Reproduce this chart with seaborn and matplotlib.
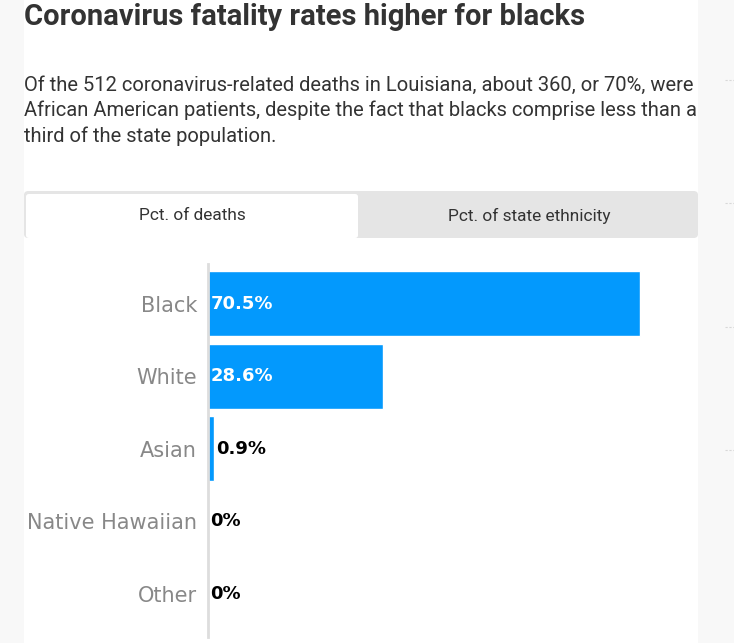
import matplotlib
matplotlib.use("Agg")
import matplotlib.pyplot as plt
import seaborn as sns
import pandas as pd
from matplotlib.patches import Rectangle, FancyBboxPatch
from matplotlib.lines import Line2D

# data
groups = ["Black", "White", "Asian", "Native Hawaiian", "Other"]
pct_deaths = [70.5, 28.6, 0.9, 0.0, 0.0]
value_labels = ["70.5%", "28.6%", "0.9%", "0%", "0%"]
tabs = ["Pct. of deaths", "Pct. of state ethnicity"]

title = "Coronavirus fatality rates higher for blacks"
subtitle = ("Of the 512 coronavirus-related deaths in Louisiana, about 360, or 70%, were\n"
            "African American patients, despite the fact that blacks comprise less than a\n"
            "third of the state population.")

df = pd.DataFrame({"group": groups, "pct": pct_deaths})

sns.set_theme(style="white")
plt.rcParams["font.family"] = ["Roboto", "DejaVu Sans"]

W, H = 734, 643
fig = plt.figure(figsize=(W / 100, H / 100), dpi=100)
fig.patch.set_facecolor("#f8f8f8")

def fx(px):
    return px / W

def fy(py):
    return 1 - py / H

# white content panel
fig.patches.append(Rectangle((fx(24), 0), fx(698) - fx(24), 1,
                             transform=fig.transFigure, facecolor="white",
                             edgecolor="none", zorder=0))

# faint dashes at the right page edge
for py in [80, 203, 327, 450]:
    fig.lines.append(Line2D([fx(725), fx(734)], [fy(py), fy(py)],
                            transform=fig.transFigure, color="#d8d8d8",
                            lw=0.8, ls=(0, (2, 1.5))))

# tab strip
fig.patches.append(FancyBboxPatch((fx(24), fy(238)), fx(698) - fx(24), fy(191) - fy(238),
                                  boxstyle="round,pad=0,rounding_size=0.006",
                                  transform=fig.transFigure, facecolor="#e5e5e5",
                                  edgecolor="none", zorder=1))
fig.patches.append(FancyBboxPatch((fx(26), fy(238)), fx(358) - fx(26), fy(194) - fy(238),
                                  boxstyle="round,pad=0,rounding_size=0.004",
                                  transform=fig.transFigure, facecolor="white",
                                  edgecolor="none", zorder=2))
fig.text(fx(192), fy(216), tabs[0], ha="center", va="center", fontsize=12.4,
         color="#333333", zorder=3)
fig.text(fx(529), fy(216), tabs[1], ha="center", va="center", fontsize=12.4,
         color="#333333", zorder=3)

# title and subtitle
fig.text(fx(24), fy(17), title, ha="left", va="center", fontsize=21,
         fontweight="bold", color="#333333")
fig.text(fx(24), fy(111), subtitle, ha="left", va="center", fontsize=14.5,
         color="#333333", linespacing=1.4)

# bar chart
ax = fig.add_axes([fx(208), fy(637), fx(698) - fx(208), fy(264) - fy(637)])
ax.set_zorder(5)
ax.set_facecolor("none")
sns.barplot(data=df, x="pct", y="group", orient="h", color="#0399fd",
            width=0.9, saturation=1, ax=ax)
ax.set_xlim(0, 80)
ax.set_ylim(4.6, -0.55)
ax.set_xlabel("")
ax.set_ylabel("")
ax.set_xticks([])
ax.tick_params(axis="y", length=0, pad=8, labelsize=15, labelcolor="#888888")
for t in ax.get_yticklabels():
    t.set_fontfamily("DejaVu Sans")
for s in ["top", "right", "bottom"]:
    ax.spines[s].set_visible(False)
ax.spines["left"].set_color("#dddddd")
ax.spines["left"].set_linewidth(2)

for i, (v, lab) in enumerate(zip(pct_deaths, value_labels)):
    if v > 5:
        ax.text(0.4, i, lab, ha="left", va="center", color="white",
                fontsize=13, fontweight="bold", family="DejaVu Sans")
    else:
        ax.text(v + 0.35, i, lab, ha="left", va="center", color="black",
                fontsize=13, fontweight="bold", family="DejaVu Sans")

fig.savefig("out.png", dpi=100, facecolor=fig.get_facecolor())
